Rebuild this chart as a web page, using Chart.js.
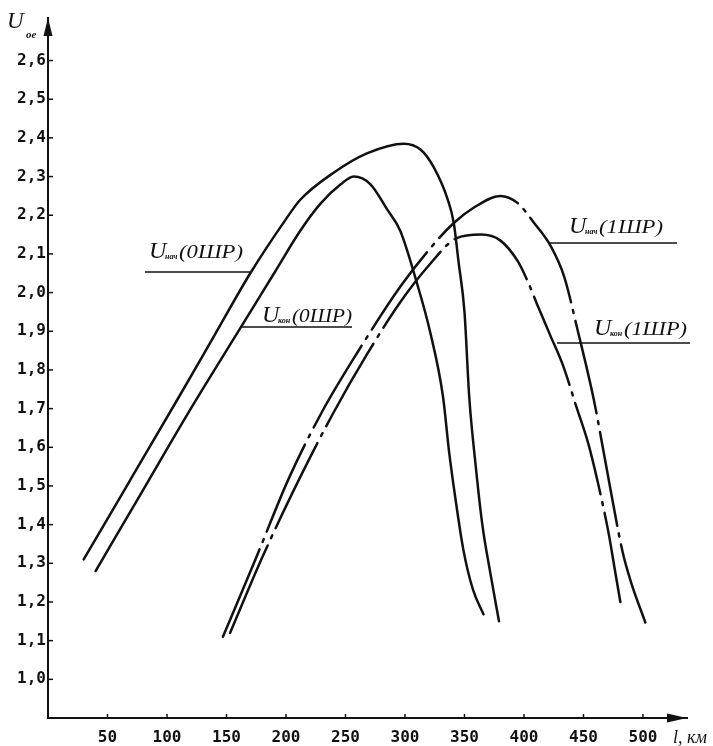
<!DOCTYPE html>
<html>
<head>
<meta charset="utf-8">
<script src="https://cdn.jsdelivr.net/npm/chart.js@4.4.1/dist/chart.umd.min.js"></script>
<style>
  html, body { margin: 0; padding: 0; background: #fff; }
  #wrap { width: 713px; height: 746px; }
</style>
</head>
<body>
<div id="wrap"><canvas id="c" width="713" height="746"></canvas></div>
<script>
// ---- данные ----
const X_TICKS = [50, 100, 150, 200, 250, 300, 350, 400, 450, 500];
const Y_TICKS = [1.0, 1.1, 1.2, 1.3, 1.4, 1.5, 1.6, 1.7, 1.8, 1.9, 2.0, 2.1, 2.2, 2.3, 2.4, 2.5, 2.6];

// U нач (0ШР) — сплошная, внешняя
const L_NACH_0 = [30, 70, 110, 140, 170, 200, 212, 240, 268, 299, 313, 324, 336, 341, 345, 350, 354, 359.5, 365, 372, 379];
const U_NACH_0 = [1.31, 1.52, 1.73, 1.89, 2.05, 2.19, 2.24, 2.31, 2.36, 2.385, 2.37, 2.325, 2.24, 2.18, 2.08, 1.95, 1.73, 1.55, 1.40, 1.27, 1.15];

// U кон (0ШР) — сплошная, внутренняя
const L_KON_0 = [40, 80, 120, 162, 190, 212, 229, 246, 257, 271, 285, 296, 310, 321, 332, 337, 342.5, 349, 357, 366];
const U_KON_0 = [1.28, 1.49, 1.70, 1.91, 2.05, 2.16, 2.23, 2.28, 2.30, 2.28, 2.215, 2.16, 2.025, 1.90, 1.73, 1.59, 1.465, 1.336, 1.233, 1.168];

// U нач (1ШР) — штрихпунктир
const L_NACH_1 = [147, 175, 202, 230, 260, 296, 320, 341, 358, 380, 394.5, 408.5, 422.5, 433.7, 445, 458.7, 469.6, 483, 490, 502];
const U_NACH_1 = [1.11, 1.315, 1.517, 1.69, 1.845, 2.015, 2.11, 2.18, 2.22, 2.25, 2.232, 2.18, 2.12, 2.042, 1.904, 1.723, 1.543, 1.328, 1.251, 1.147];

// U кон (1ШР) — штрихпунктир
const L_KON_1 = [153, 180, 211, 240, 268, 296, 320, 343, 364, 380, 395, 403, 411, 422, 433, 444, 454, 462, 471, 476, 481];
const U_KON_1 = [1.12, 1.315, 1.517, 1.69, 1.84, 1.975, 2.07, 2.14, 2.15, 2.135, 2.08, 2.03, 1.97, 1.89, 1.81, 1.705, 1.61, 1.51, 1.38, 1.29, 1.20];

const INK = '#111';
const DASH_DOT = [95, 8, 3, 8];
const pts = (xs, ys) => xs.map((x, i) => ({x: x, y: ys[i]}));

function curve(xs, ys, dash) {
  return {
    data: pts(xs, ys),
    borderColor: INK,
    borderWidth: 2.5,
    borderDash: dash || [],
    pointRadius: 0,
    fill: false,
    cubicInterpolationMode: 'monotone',
    borderCapStyle: 'round'
  };
}

// подписи кривых, оси, стрелки
const decor = {
  id: 'decor',
  afterDraw(chart) {
    const {ctx, chartArea: a, scales: {x, y}} = chart;
    ctx.save();
    ctx.strokeStyle = INK;
    ctx.fillStyle = INK;
    ctx.lineWidth = 1.5;

    // засечки внутрь поля
    Y_TICKS.forEach(v => {
      const py = y.getPixelForValue(v);
      ctx.beginPath(); ctx.moveTo(a.left, py); ctx.lineTo(a.left + 5, py); ctx.stroke();
    });
    X_TICKS.forEach(v => {
      const px = x.getPixelForValue(v);
      ctx.beginPath(); ctx.moveTo(px, a.bottom); ctx.lineTo(px, a.bottom - 4); ctx.stroke();
    });

    // стрелки
    ctx.beginPath();
    ctx.moveTo(a.left, a.top); ctx.lineTo(a.left - 4.5, a.top + 18); ctx.lineTo(a.left + 4.5, a.top + 18);
    ctx.closePath(); ctx.fill();
    ctx.beginPath();
    ctx.moveTo(a.right, a.bottom); ctx.lineTo(a.right - 20, a.bottom - 4.5); ctx.lineTo(a.right - 20, a.bottom + 4.5);
    ctx.closePath(); ctx.fill();

    // подписи осей
    ctx.font = 'italic 23px "Liberation Serif"';
    ctx.fillText('U', 7, 28);
    ctx.font = 'italic bold 11px "Liberation Serif"';
    ctx.fillText('oe', 26, 38);
    ctx.font = 'italic 18px "Liberation Serif"';
    ctx.fillText('l, км', 673, 743);

    // подписи кривых
    function label(ux, base, sub, paren, pEnd, ly, lx0, lx1) {
      ctx.font = 'italic 24px "Liberation Serif"';
      ctx.fillText('U', ux, base);
      ctx.font = 'italic bold 8px "Liberation Serif"';
      ctx.fillText(sub, ux + 16, base + 1);
      ctx.font = 'italic 18px "Liberation Serif"';
      const p0 = ux + 30;
      const w = ctx.measureText(paren).width;
      ctx.save();
      ctx.translate(p0, base);
      ctx.scale((pEnd - p0) / w, 1);
      ctx.fillText(paren, 0, 0);
      ctx.restore();
      ctx.lineWidth = 1.6;
      ctx.beginPath(); ctx.moveTo(lx0, ly); ctx.lineTo(lx1, ly); ctx.stroke();
    }
    label(149, 258, 'нач', '(0ШР)', 243, 272, 145, 250);
    label(262, 322, 'кон', '(0ШР)', 352, 327, 240, 352);
    label(569, 233, 'нач', '(1ШР)', 663, 243, 548, 677);
    label(594, 335, 'кон', '(1ШР)', 687, 343, 557, 690);

    ctx.restore();
  }
};

const tickFont = {family: '"DejaVu Sans Mono"', weight: 'bold', size: 16};

new Chart(document.getElementById('c'), {
  type: 'line',
  data: {
    datasets: [
      curve(L_NACH_0, U_NACH_0),
      curve(L_KON_0, U_KON_0),
      curve(L_NACH_1, U_NACH_1, DASH_DOT),
      curve(L_KON_1, U_KON_1, DASH_DOT)
    ]
  },
  options: {
    responsive: false,
    animation: false,
    devicePixelRatio: 1,
    layout: {padding: {top: 18, right: 26, left: 0, bottom: 0}},
    plugins: {legend: {display: false}, tooltip: {enabled: false}},
    scales: {
      x: {
        type: 'linear',
        min: 0,
        max: 537,
        afterBuildTicks: s => { s.ticks = X_TICKS.map(v => ({value: v})); },
        afterFit: s => { s.height = 28; },
        grid: {display: false, drawTicks: false},
        border: {display: true, color: INK, width: 2},
        ticks: {font: tickFont, color: INK, padding: 10, maxRotation: 0, autoSkip: false}
      },
      y: {
        type: 'linear',
        min: 0.9,
        max: 2.71,
        afterBuildTicks: s => { s.ticks = Y_TICKS.map(v => ({value: v})); },
        afterFit: s => { s.width = 48; },
        grid: {display: false, drawTicks: false},
        border: {display: true, color: INK, width: 2},
        ticks: {
          font: tickFont, color: INK, padding: 2, autoSkip: false,
          callback: v => v.toFixed(1).replace('.', ',')
        }
      }
    }
  },
  plugins: [decor]
});
</script>
</body>
</html>
